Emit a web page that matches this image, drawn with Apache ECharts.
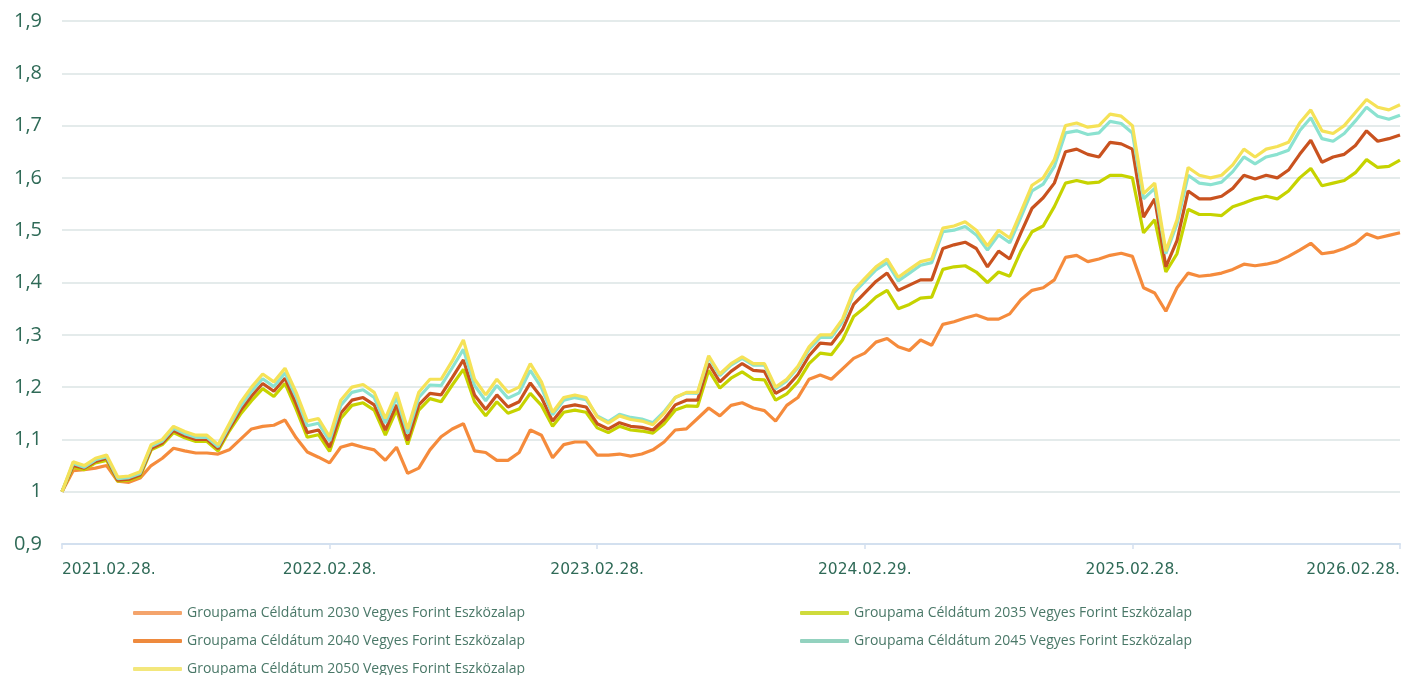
<!DOCTYPE html>
<html>
<head>
<meta charset="utf-8">
<title>Groupama Céldátum</title>
<script src="https://cdn.jsdelivr.net/npm/echarts@6/dist/echarts.min.js"></script>
<style>
  html, body { margin: 0; padding: 0; background: #fff; }
  #lineChart { width: 1404px; height: 675px; }
</style>
</head>
<body>
<div id="lineChart"></div>
<script>
// félhavi pontok 2021.02.28. -> 2026.02.28.
var startYear = 2021;
var dates = [];
(function () {
    var pad = function (n) { return n < 10 ? '0' + n : '' + n; };
    dates.push('2021.02.28.');
    for (var m = 1; m <= 60; m++) {
        var y = startYear + Math.floor((m + 1) / 12);
        var mon = (m + 1) % 12 + 1;
        var last = new Date(y, mon, 0).getDate();
        dates.push(y + '.' + pad(mon) + '.15.');
        dates.push(y + '.' + pad(mon) + '.' + pad(last) + '.');
    }
})();

var seriesNames = [
    'Groupama Céldátum 2030 Vegyes Forint Eszközalap',
    'Groupama Céldátum 2035 Vegyes Forint Eszközalap',
    'Groupama Céldátum 2040 Vegyes Forint Eszközalap',
    'Groupama Céldátum 2045 Vegyes Forint Eszközalap',
    'Groupama Céldátum 2050 Vegyes Forint Eszközalap'
];

var fund2030 = [
    1.000, 1.040, 1.042, 1.045, 1.050, 1.020, 1.018, 1.026, 1.050, 1.064,
    1.083, 1.078, 1.074, 1.074, 1.072, 1.080, 1.100, 1.120, 1.125, 1.127,
    1.137, 1.103, 1.076, 1.066, 1.055, 1.085, 1.091, 1.085, 1.080, 1.060,
    1.085, 1.035, 1.045, 1.080, 1.105, 1.120, 1.130, 1.078, 1.075, 1.060,
    1.060, 1.075, 1.118, 1.108, 1.065, 1.090, 1.095, 1.095, 1.070, 1.070,
    1.072, 1.068, 1.072, 1.080, 1.095, 1.118, 1.120, 1.140, 1.160, 1.145,
    1.165, 1.170, 1.160, 1.155, 1.135, 1.165, 1.180, 1.215, 1.223, 1.215,
    1.235, 1.255, 1.265, 1.286, 1.293, 1.277, 1.270, 1.290, 1.280, 1.320,
    1.325, 1.332, 1.338, 1.330, 1.330, 1.340, 1.367, 1.385, 1.390, 1.405,
    1.448, 1.452, 1.440, 1.445, 1.452, 1.456, 1.450, 1.390, 1.380, 1.345,
    1.390, 1.418, 1.412, 1.414, 1.418, 1.425, 1.435, 1.432, 1.435, 1.440,
    1.450, 1.462, 1.475, 1.455, 1.458, 1.465, 1.475, 1.493, 1.485, 1.490,
    1.495
];

var fund2035 = [
    1.000, 1.047, 1.042, 1.055, 1.060, 1.020, 1.022, 1.029, 1.080, 1.090,
    1.113, 1.103, 1.096, 1.096, 1.078, 1.116, 1.148, 1.174, 1.197, 1.182,
    1.207, 1.158, 1.104, 1.109, 1.077, 1.140, 1.165, 1.170, 1.156, 1.108,
    1.156, 1.090, 1.156, 1.178, 1.172, 1.204, 1.234, 1.172, 1.145, 1.172,
    1.150, 1.158, 1.188, 1.165, 1.125, 1.152, 1.156, 1.152, 1.122, 1.113,
    1.125, 1.118, 1.116, 1.112, 1.130, 1.156, 1.164, 1.163, 1.232, 1.198,
    1.217, 1.229, 1.215, 1.214, 1.175, 1.187, 1.210, 1.245, 1.265, 1.262,
    1.290, 1.335, 1.352, 1.372, 1.385, 1.350, 1.358, 1.370, 1.372, 1.425,
    1.430, 1.432, 1.420, 1.400, 1.420, 1.412, 1.460, 1.497, 1.508, 1.545,
    1.590, 1.595, 1.590, 1.592, 1.605, 1.605, 1.600, 1.495, 1.520, 1.420,
    1.455, 1.540, 1.530, 1.530, 1.528, 1.545, 1.552, 1.560, 1.565, 1.560,
    1.575, 1.600, 1.618, 1.585, 1.590, 1.595, 1.610, 1.635, 1.620, 1.622,
    1.634
];

var fund2040 = [
    1.000, 1.050, 1.045, 1.058, 1.064, 1.022, 1.024, 1.032, 1.083, 1.093,
    1.117, 1.107, 1.100, 1.100, 1.082, 1.120, 1.155, 1.183, 1.207, 1.192,
    1.217, 1.168, 1.113, 1.118, 1.085, 1.150, 1.175, 1.180, 1.166, 1.118,
    1.166, 1.098, 1.166, 1.188, 1.185, 1.218, 1.252, 1.185, 1.157, 1.185,
    1.162, 1.172, 1.208, 1.180, 1.135, 1.162, 1.166, 1.162, 1.130, 1.120,
    1.132, 1.125, 1.123, 1.118, 1.138, 1.166, 1.175, 1.175, 1.245, 1.210,
    1.230, 1.245, 1.232, 1.230, 1.188, 1.200, 1.224, 1.260, 1.284, 1.282,
    1.310, 1.358, 1.380, 1.402, 1.418, 1.385, 1.395, 1.405, 1.405, 1.465,
    1.472, 1.477, 1.465, 1.430, 1.460, 1.445, 1.495, 1.542, 1.562, 1.590,
    1.650, 1.655, 1.645, 1.640, 1.668, 1.665, 1.655, 1.525, 1.560, 1.430,
    1.480, 1.575, 1.560, 1.560, 1.565, 1.580, 1.605, 1.598, 1.605, 1.600,
    1.615, 1.645, 1.672, 1.630, 1.640, 1.645, 1.662, 1.690, 1.670, 1.675,
    1.682
];

var fund2045 = [
    1.000, 1.054, 1.047, 1.061, 1.067, 1.025, 1.027, 1.035, 1.087, 1.097,
    1.121, 1.111, 1.104, 1.104, 1.086, 1.125, 1.163, 1.192, 1.216, 1.201,
    1.227, 1.181, 1.126, 1.131, 1.097, 1.165, 1.190, 1.195, 1.180, 1.131,
    1.180, 1.111, 1.180, 1.204, 1.203, 1.237, 1.272, 1.203, 1.174, 1.203,
    1.179, 1.189, 1.232, 1.199, 1.147, 1.175, 1.180, 1.176, 1.145, 1.134,
    1.148, 1.142, 1.139, 1.132, 1.153, 1.180, 1.189, 1.188, 1.257, 1.222,
    1.242, 1.255, 1.242, 1.242, 1.197, 1.212, 1.237, 1.272, 1.295, 1.295,
    1.325, 1.380, 1.402, 1.424, 1.438, 1.403, 1.418, 1.433, 1.438, 1.497,
    1.500, 1.507, 1.491, 1.462, 1.491, 1.476, 1.525, 1.575, 1.588, 1.622,
    1.686, 1.690, 1.683, 1.686, 1.708, 1.704, 1.686, 1.560, 1.580, 1.455,
    1.512, 1.605, 1.590, 1.587, 1.592, 1.612, 1.640, 1.627, 1.640, 1.645,
    1.653, 1.690, 1.715, 1.675, 1.670, 1.685, 1.709, 1.735, 1.718, 1.712,
    1.720
];

var fund2050 = [
    1.000, 1.057, 1.050, 1.064, 1.070, 1.028, 1.030, 1.038, 1.090, 1.100,
    1.125, 1.115, 1.108, 1.108, 1.090, 1.130, 1.170, 1.200, 1.225, 1.210,
    1.236, 1.190, 1.135, 1.140, 1.105, 1.175, 1.200, 1.205, 1.190, 1.140,
    1.190, 1.120, 1.190, 1.215, 1.215, 1.250, 1.290, 1.215, 1.185, 1.215,
    1.190, 1.200, 1.245, 1.210, 1.152, 1.180, 1.185, 1.180, 1.143, 1.131,
    1.145, 1.138, 1.135, 1.128, 1.150, 1.180, 1.190, 1.190, 1.260, 1.225,
    1.245, 1.258, 1.245, 1.245, 1.200, 1.215, 1.240, 1.277, 1.300, 1.300,
    1.330, 1.385, 1.408, 1.430, 1.445, 1.410, 1.425, 1.440, 1.445, 1.504,
    1.508, 1.516, 1.500, 1.470, 1.500, 1.485, 1.535, 1.586, 1.600, 1.635,
    1.700, 1.705, 1.697, 1.700, 1.722, 1.718, 1.700, 1.570, 1.590, 1.460,
    1.520, 1.620, 1.605, 1.600, 1.605, 1.625, 1.655, 1.640, 1.655, 1.660,
    1.668, 1.705, 1.730, 1.690, 1.685, 1.700, 1.725, 1.750, 1.735, 1.730,
    1.740
];

var lineColors = ['#f58b3c', '#c6d300', '#c9521f', '#8be2d0', '#f5e257'];
var legendColors = ['#f4a46c', '#cfdb3c', '#ee8a3e', '#93d2bf', '#f3e77c'];
var yMin = 0.9, yMax = 1.9, yStep = 0.1;

var lineChart = echarts.init(document.getElementById('lineChart'));

var fundData = [fund2030, fund2035, fund2040, fund2045, fund2050];
var seriesList = fundData.map(function (d, i) {
    return {
        name: seriesNames[i],
        type: 'line',
        data: d,
        showSymbol: false,
        symbol: 'none',
        lineStyle: { width: 3.2, color: lineColors[i] },
        itemStyle: { color: lineColors[i] }
    };
});

var legendItem = function (i) {
    return {
        name: seriesNames[i],
        icon: 'roundRect',
        itemStyle: { color: legendColors[i] }
    };
};

var legendBase = {
    orient: 'vertical',
    top: 606,
    height: 150,
    itemWidth: 49,
    itemHeight: 4,
    itemGap: 14,
    textStyle: {
        fontFamily: 'Open Sans',
        fontSize: 14,
        lineHeight: 14,
        color: '#4a7868'
    },
    padding: 0
};

var lineOption = {
    animation: false,
    color: lineColors,
    grid: {
        left: 62,
        right: 4,
        top: 21,
        bottom: 131
    },
    legend: [
        Object.assign({}, legendBase, { left: 133, data: [legendItem(0), legendItem(2), legendItem(4)] }),
        Object.assign({}, legendBase, { left: 800, data: [legendItem(1), legendItem(3)] })
    ],
    xAxis: {
        type: 'category',
        boundaryGap: false,
        data: dates,
        axisLine: { lineStyle: { color: '#d3e0ef', width: 2 } },
        axisTick: {
            lineStyle: { color: '#d3e0ef', width: 1.5 },
            length: 5,
            interval: function (idx) { return idx % 24 === 0; }
        },
        axisLabel: {
            interval: function (idx) { return idx % 24 === 0; },
            color: '#2f6a57',
            fontFamily: 'DejaVu Sans',
            fontSize: 15.5,
            margin: 18,
            alignMinLabel: 'left',
            alignMaxLabel: 'right'
        },
        splitLine: { show: false }
    },
    yAxis: {
        type: 'value',
        min: yMin,
        max: yMax,
        interval: yStep,
        axisLine: { show: false },
        axisTick: { show: false },
        axisLabel: {
            color: '#2f6a57',
            fontFamily: 'Open Sans',
            fontSize: 20,
            margin: 20,
            formatter: function (v) {
                return (Math.round(v * 10) / 10).toString().replace('.', ',');
            }
        },
        splitLine: { lineStyle: { color: '#dbe5e5', width: 1.5 } }
    },
    series: seriesList
};

lineChart.setOption(lineOption, true);
</script>
</body>
</html>
